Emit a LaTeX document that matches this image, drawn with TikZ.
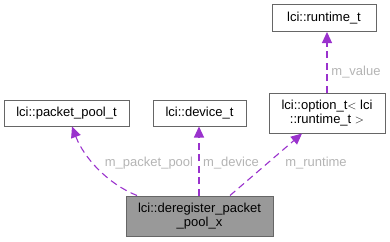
\documentclass[tikz,border=0pt]{standalone}
\usepackage{fontspec}
\setmainfont{Liberation Sans}
\usetikzlibrary{arrows.meta}

\definecolor{edgecol}{HTML}{9A32CD}
\definecolor{boxline}{HTML}{666666}
\definecolor{labelcol}{HTML}{B4B4B4}

\tikzset{
  cls/.style={draw=boxline, line width=1pt, fill=white, inner sep=0pt,
    font=\fontsize{13}{14.5}\selectfont, align=center},
  usage/.style={draw=edgecol, line width=1.1pt, dash pattern=on 7pt off 4.5pt,
    -{Triangle[length=11pt,width=10pt,fill=edgecol]}},
  role/.style={text=labelcol, font=\fontsize{13}{14.5}\selectfont, inner sep=0pt}
}

\begin{document}
\begin{tikzpicture}[x=1pt,y=-1pt]
  \useasboundingbox (0,0) rectangle (390,241);

  % the struct itself
  \node[cls, fill=black!40, minimum width=147pt, minimum height=40pt]
    (dereg) at (199.5,216) {lci::deregister\_packet\\\_pool\_x};

  % members
  \node[cls, minimum width=125pt, minimum height=26pt] (pool) at (66.5,113) {lci::packet\_pool\_t};
  \node[cls, minimum width=93pt, minimum height=26pt] (device) at (199.5,113) {lci::device\_t};
  \node[cls, minimum width=116pt, minimum height=40pt] (option) at (327,113) {lci::option\_t$<$ lci\\::runtime\_t $>$};
  \node[cls, minimum width=104pt, minimum height=27pt] (runtime) at (324,18) {lci::runtime\_t};

  % Usage edges
  \draw[usage] (dereg.north -| 137,0) .. controls (108,184) and (84,158) .. (pool.south -| 72,0);
  \draw[usage] (dereg.north -| 199,0) -- (device.south -| 199,0);
  \draw[usage] (dereg.north -| 230,0) -- (option.south -| 302,0);
  \draw[usage] (option.north -| 327,0) -- (runtime.south -| 327,0);

  % role names
  \node[role] (lpool) at (149,163) {m\_packet\_pool};
  \node[role] (ldev) at (231,163) {m\_device};
  \node[role] (lrun) at (316,163) {m\_runtime};
  \node[role] (lval) at (356,72) {m\_value};
\end{tikzpicture}
\end{document}
